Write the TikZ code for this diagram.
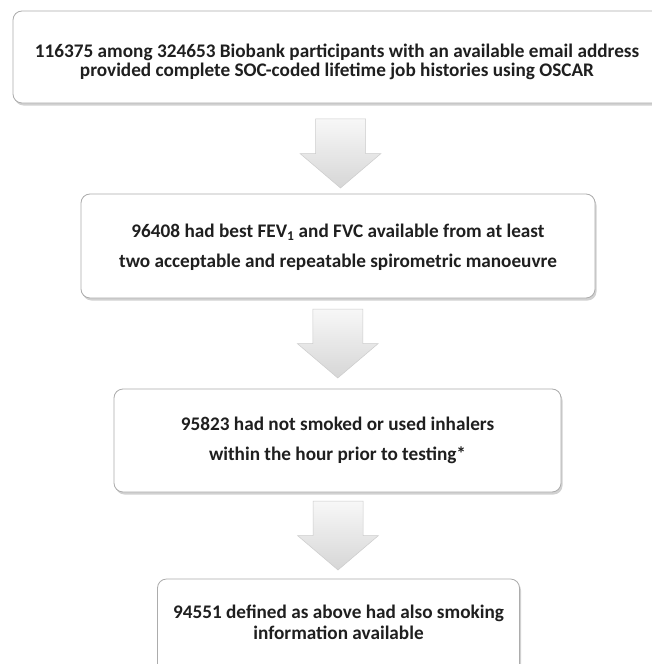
\documentclass[tikz,border=0pt]{standalone}
\usepackage{fontspec}
\setmainfont{Carlito}
\usetikzlibrary{shadows,calc}
\begin{document}
\begin{tikzpicture}[x=1bp,y=-1bp,
  box/.style={draw=gray!65, line width=0.8bp, rounded corners=9bp, fill=white, inner sep=0pt,
    drop shadow={shadow xshift=1.5bp, shadow yshift=-2.5bp, opacity=0.45, fill=gray!80}},
  txtA/.style={font=\bfseries\fontsize{19.3}{19.5}\selectfont, align=center, text=black!88, inner sep=0pt},
  txtB/.style={font=\bfseries\fontsize{19.3}{30}\selectfont, align=center, text=black!88, inner sep=0pt},
  txtC/.style={font=\bfseries\fontsize{19.3}{21}\selectfont, align=center, text=black!88, inner sep=0pt},
  blockarrow/.style={top color=gray!6, bottom color=gray!32, draw=gray!40, line width=0.5bp},
  pics/downarrow/.style={code={
    \path[blockarrow] (-25,-34.5) -- (25,-34.5) -- (25,0) -- (40.5,0) -- (0,34.5)
      -- (-40.5,0) -- (-25,0) -- cycle;}}]
\path[use as bounding box] (0,0) rectangle (652,664);
\clip (0,0) rectangle (652,664);
\fill[white] (0,0) rectangle (652,664);

\node[box, minimum width=660bp, minimum height=92bp] (b1) at (343,57) {};
\node[txtA] (t1) at (337,62) {116375 among 324653 Biobank participants with an available email address\\provided complete SOC-coded lifetime job histories using OSCAR};

\node[box, minimum width=514bp, minimum height=104bp] (b2) at (338,246) {};
\node[txtB] (t2) at (338,247) {96408 had best FEV\textsubscript{1} and FVC available from at least\\two acceptable and repeatable spirometric manoeuvre};

\node[box, minimum width=447bp, minimum height=103bp] (b3) at (337.5,440.5) {};
\node[txtB] (t3) at (337.5,440) {95823 had not smoked or used inhalers\\within the hour prior to testing*};

\node[box, minimum width=362bp, minimum height=100bp] (b4) at (338.5,629) {};
\node[txtC] (t4) at (338.5,622.5) {94551 defined as above had also smoking\\information available};

\pic (a1) at ($(b1.south)!0.5!(b2.north)+(0,5)$) {downarrow};
\pic (a2) at ($(b2.south)!0.5!(b3.north)$) {downarrow};
\pic (a3) at ($(b3.south)!0.5!(b4.north)$) {downarrow};
\end{tikzpicture}
\end{document}
